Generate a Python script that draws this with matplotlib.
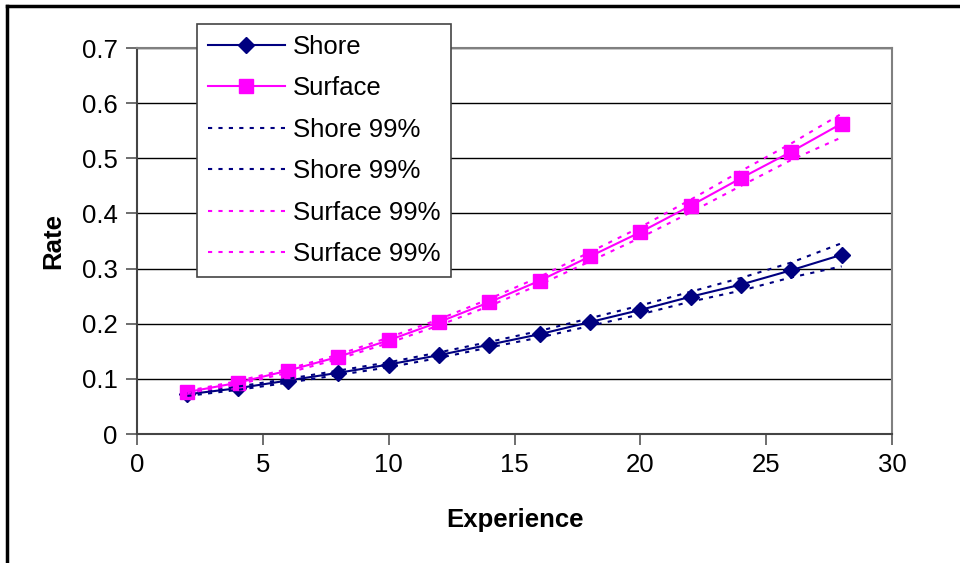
import numpy as np
import matplotlib.pyplot as plt
from matplotlib.lines import Line2D

plt.rcParams['font.family'] = ['Liberation Sans', 'DejaVu Sans']

experience = [2, 4, 6, 8, 10, 12, 14, 16, 18, 20, 22, 24, 26, 28]

shore = [0.072, 0.083, 0.097, 0.111, 0.126, 0.143, 0.162, 0.181, 0.203, 0.225, 0.249, 0.271, 0.297, 0.325]
shore_hi = [0.074, 0.086, 0.100, 0.115, 0.130, 0.148, 0.167, 0.187, 0.210, 0.233, 0.258, 0.283, 0.311, 0.346]
shore_lo = [0.069, 0.080, 0.093, 0.107, 0.121, 0.138, 0.157, 0.175, 0.196, 0.217, 0.240, 0.260, 0.284, 0.304]

surface = [0.076, 0.093, 0.115, 0.140, 0.170, 0.203, 0.239, 0.278, 0.322, 0.366, 0.414, 0.464, 0.512, 0.563]
surface_hi = [0.078, 0.096, 0.118, 0.144, 0.175, 0.208, 0.245, 0.285, 0.330, 0.375, 0.425, 0.477, 0.527, 0.581]
surface_lo = [0.074, 0.090, 0.111, 0.136, 0.165, 0.197, 0.232, 0.271, 0.313, 0.356, 0.402, 0.450, 0.497, 0.538]

navy = '#000080'
magenta = '#FF00FF'
dots = (0, (2, 3))
fs = 18.5

fig = plt.figure(figsize=(9.6, 5.63), dpi=100)
ax = fig.add_axes([137/960, 1 - 434/563, (892-137)/960, (434-48)/563])

ax.plot(experience, shore, color=navy, lw=1.5, marker='D', ms=8.5, label='Shore')
ax.plot(experience, surface, color=magenta, lw=1.5, marker='s', ms=9.5, label='Surface')
ax.plot(experience, shore_hi, color=navy, lw=1.5, ls=dots, label='Shore 99%')
ax.plot(experience, shore_lo, color=navy, lw=1.5, ls=dots, label='Shore 99%')
ax.plot(experience, surface_hi, color=magenta, lw=1.5, ls=dots, label='Surface 99%')
ax.plot(experience, surface_lo, color=magenta, lw=1.5, ls=dots, label='Surface 99%')

ax.set_xlim(0, 30)
ax.set_ylim(0, 0.7)
ax.set_xticks(np.arange(0, 31, 5))
ax.set_yticks(np.arange(0, 0.71, 0.1))
ax.set_yticklabels(['0', '0.1', '0.2', '0.3', '0.4', '0.5', '0.6', '0.7'])
ax.yaxis.grid(True, color='black', lw=1)
ax.set_axisbelow(True)
ax.tick_params(direction='out', length=8, width=1.2, color='#555555', labelsize=fs, pad=6)

ax.spines['top'].set_color('#808080')
ax.spines['right'].set_color('#808080')
ax.spines['left'].set_color('#444444')
ax.spines['bottom'].set_color('#444444')
for s in ax.spines.values():
    s.set_linewidth(1.5)

ax.set_xlabel('Experience', fontsize=fs, fontweight='bold', labelpad=22)
ax.set_ylabel('Rate', fontsize=fs, fontweight='bold', labelpad=12)

leg = ax.legend(loc='upper left', bbox_to_anchor=(197/960, 1 - 24/563),
                bbox_transform=fig.transFigure, borderaxespad=0,
                fontsize=fs, handlelength=3.0, labelspacing=0.68,
                fancybox=False, framealpha=1, edgecolor='#444444',
                borderpad=0.42, handletextpad=0.3)
leg.get_frame().set_linewidth(1.2)

# outer chart border (left and top edges visible)
fig.add_artist(Line2D([7/960, 7/960], [0, 1 - 6/563], color='black', lw=2.5,
                      transform=fig.transFigure))
fig.add_artist(Line2D([7/960, 1], [1 - 6/563, 1 - 6/563], color='black', lw=2.5,
                      transform=fig.transFigure))

plt.savefig('out.png', dpi=100)
